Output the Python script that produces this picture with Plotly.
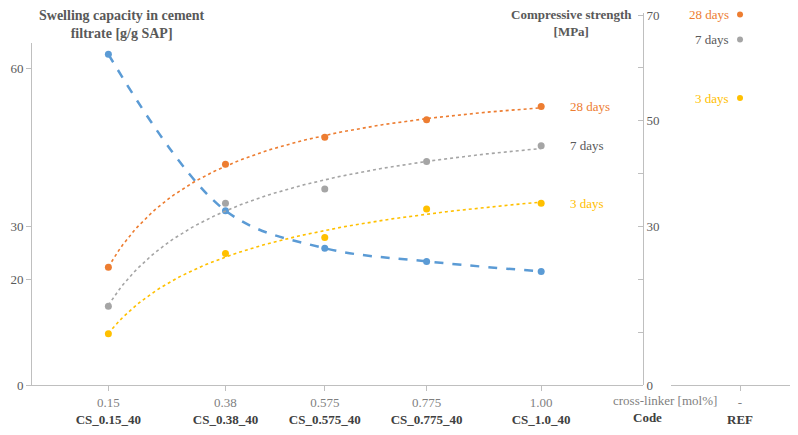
import numpy as np
import plotly.graph_objects as go

# ---- data ----
crosslinker = [0.15, 0.38, 0.575, 0.775, 1.00]
codes = ["CS_0.15_40", "CS_0.38_40", "CS_0.575_40", "CS_0.775_40", "CS_1.0_40"]
swelling = [62.6, 33.0, 25.9, 23.4, 21.5]          # g/g SAP (left axis)
cs_28d = [22.3, 41.8, 46.9, 50.2, 52.7]            # MPa (right axis)
cs_7d = [14.9, 34.4, 37.1, 42.3, 45.3]
cs_3d = [9.7, 24.9, 27.9, 33.3, 34.4]
ref_labels = ["28 days", "7 days", "3 days"]
ref_values = [70.1, 65.4, 54.3]

left_ticks = [0, 20, 30, 60]
right_ticks = [0, 10, 20, 30, 40, 50, 60, 70]
right_ticktext = ["0", "", "", "30", "", "50", "", "70"]

C_BLUE = "#5B9BD5"
C_ORANGE = "#ED7D31"
C_GRAY = "#A5A5A5"
C_YELLOW = "#FFC000"
TXT = "#595959"
FONT = "'Liberation Serif', 'Times New Roman', serif"

fig = go.Figure()

# swelling capacity (dashed smooth line)
fig.add_trace(go.Scatter(
    x=crosslinker, y=swelling, mode="lines+markers", xaxis="x", yaxis="y",
    line=dict(color=C_BLUE, width=2.5, dash="dash", shape="spline"),
    marker=dict(color=C_BLUE, size=7), showlegend=False, hoverinfo="skip"))

# compressive strength series with trendlines (fit in ln(x), like a spreadsheet trendline)
xs = np.linspace(min(crosslinker), max(crosslinker), 120)
for vals, col, name, tcol in [(cs_28d, C_ORANGE, "28 days", C_ORANGE),
                               (cs_7d, C_GRAY, "7 days", TXT),
                               (cs_3d, C_YELLOW, "3 days", C_YELLOW)]:
    coef = np.polyfit(np.log(crosslinker), vals, 2)
    fig.add_trace(go.Scatter(
        x=xs, y=np.polyval(coef, np.log(xs)), mode="lines", xaxis="x", yaxis="y2",
        line=dict(color=col, width=1.6, dash="dot"), showlegend=False, hoverinfo="skip"))
    fig.add_trace(go.Scatter(
        x=crosslinker, y=vals, mode="markers", xaxis="x", yaxis="y2",
        marker=dict(color=col, size=7), showlegend=False))
    fig.add_annotation(x=crosslinker[-1], y=vals[-1], xref="x", yref="y2",
                       text=name, showarrow=False, xanchor="left", xshift=27,
                       font=dict(family=FONT, size=13, color=tcol))

# REF panel
ref_cols = [C_ORANGE, C_GRAY, C_YELLOW]
ref_tcols = [C_ORANGE, TXT, C_YELLOW]
for lab, v, c, tc in zip(ref_labels, ref_values, ref_cols, ref_tcols):
    fig.add_trace(go.Scatter(
        x=["-"], y=[v], mode="markers", xaxis="x2", yaxis="y2", cliponaxis=False,
        marker=dict(color=c, size=6), showlegend=False))
    fig.add_annotation(x="-", y=v, xref="x2", yref="y2", text=lab, showarrow=False,
                       xanchor="right", xshift=-9,
                       font=dict(family=FONT, size=13, color=tc))

tick_text = ["<span style='color:#7f7f7f;font-weight:normal'>%s</span><br><b>%s</b>" % (
    ("%.2f" % v if v in (0.15, 0.38, 1.0) else "%.3f" % v), c) for v, c in zip(crosslinker, codes)]

L, R, T, B = 32, 8, 13, 46
W, H = 798, 435
pw = W - L - R
ph = H - T - B
main_right = 643
x_dom_end = (main_right - L) / pw
x2_dom = [(671 - L) / pw, (790 - L) / pw]
left_top = (389 - 43) / ph

fig.update_layout(
    width=W, height=H,
    margin=dict(l=L, r=R, t=T, b=B),
    paper_bgcolor="white", plot_bgcolor="rgba(0,0,0,0)",
    font=dict(family=FONT, size=13, color=TXT),
    xaxis=dict(domain=[0, x_dom_end], range=[0, 1.2], anchor="y",
               tickvals=crosslinker, ticktext=tick_text,
               showline=True, linecolor="#BFBFBF", linewidth=1,
               ticks="outside", ticklen=5, tickcolor="#BFBFBF",
               showgrid=False, zeroline=False,
               tickfont=dict(family=FONT, size=13, color="#404040")),
    xaxis2=dict(domain=x2_dom, type="category", range=[-0.58, 0.42], anchor="y2",
                tickvals=["-"], ticktext=["<span style='color:#7f7f7f'>-</span><br><b>REF</b>"],
                showline=True, linecolor="#BFBFBF", linewidth=1,
                ticks="outside", ticklen=5, tickcolor="#BFBFBF",
                showgrid=False, zeroline=False,
                tickfont=dict(family=FONT, size=13, color="#404040")),
    yaxis=dict(domain=[0, left_top], range=[0, 64.8], anchor="x", side="left",
               tickvals=left_ticks, showline=True, linecolor="#BFBFBF", linewidth=1,
               ticks="outside", ticklen=5, tickcolor="#BFBFBF",
               showgrid=False, zeroline=False,
               tickfont=dict(family=FONT, size=13, color=TXT)),
    yaxis2=dict(domain=[0, 1], range=[0, 70.4], anchor="x", side="right",
                tickvals=right_ticks, ticktext=right_ticktext,
                showline=True, linecolor="#BFBFBF", linewidth=1,
                ticks="inside", ticklen=5, tickcolor="#BFBFBF",
                showgrid=False, zeroline=False,
                tickfont=dict(family=FONT, size=13, color=TXT)),
)

fig.add_annotation(xref="paper", yref="paper", x=(122 - L) / pw, y=(389 - 25) / ph,
                   text="<b>Swelling capacity in cement<br>filtrate [g/g SAP]</b>",
                   showarrow=False, xanchor="center", yanchor="middle", align="center",
                   font=dict(family=FONT, size=14, color=TXT))
fig.add_annotation(xref="paper", yref="paper", x=(571 - L) / pw, y=(389 - 23) / ph,
                   text="<b>Compressive strength<br>[MPa]</b>",
                   showarrow=False, xanchor="center", yanchor="middle", align="center",
                   font=dict(family=FONT, size=13, color=TXT))
fig.add_annotation(xref="paper", yref="paper", x=(665 - L) / pw, y=(389 - 405) / ph,
                   text="cross-linker [mol%]", showarrow=False,
                   xanchor="center", yanchor="middle",
                   font=dict(family=FONT, size=13, color="#7f7f7f"))
fig.add_annotation(xref="paper", yref="paper", x=(647 - L) / pw, y=(389 - 422) / ph,
                   text="<b>Code</b>", showarrow=False,
                   xanchor="center", yanchor="middle",
                   font=dict(family=FONT, size=13, color="#404040"))

fig.write_html("out.html", config={"displayModeBar": False},
               post_script="document.body.style.margin='0';document.body.style.padding='0';")
